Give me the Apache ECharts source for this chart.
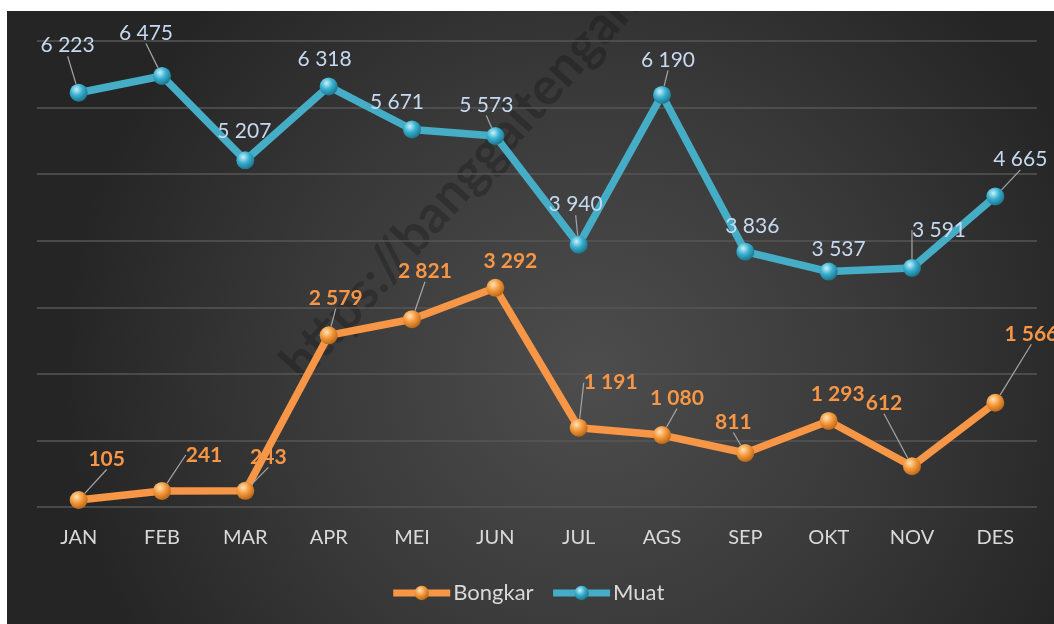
<!DOCTYPE html>
<html>
<head>
<meta charset="utf-8">
<script src="https://cdn.jsdelivr.net/npm/echarts@6/dist/echarts.min.js"></script>
<style>
  html, body { margin: 0; padding: 0; background: #fff; }
  #chart { width: 1054px; height: 624px; }
</style>
</head>
<body>
<div id="chart"></div>
<script>
// data
const months = ['JAN', 'FEB', 'MAR', 'APR', 'MEI', 'JUN', 'JUL', 'AGS', 'SEP', 'OKT', 'NOV', 'DES']
const bongkar = [105, 241, 243, 2579, 2821, 3292, 1191, 1080, 811, 1293, 612, 1566]
const muat = [6223, 6475, 5207, 6318, 5671, 5573, 3940, 6190, 3836, 3537, 3591, 4665]

// label offsets (px from the point) and whether a leader line is drawn
const muatOffset = [[-11, -47], [-16, -43], [-1, -29], [-4, -27], [-15, -27], [-9, -31],
  [-3, -40], [6, -35], [7, -25], [10, -22], [27, -38], [25, -37]]
const muatLeader = [true, true, false, false, false, true, true, true, false, false, true, true]
const bongkarOffset = [[28, -41], [42, -36], [23, -34], [7, -37], [13, -48], [15, -27],
  [32, -45], [15, -37], [-12, -31], [9, -27], [-28, -63], [36, -69]]
const bongkarLeader = [true, true, true, true, true, false, true, true, true, false, true, true]

let chart = echarts.init(document.getElementById('chart'))

// bola 3D
function ball(light, base, dark) {
  return new echarts.graphic.RadialGradient(0.38, 0.32, 0.75, [
    { offset: 0, color: light },
    { offset: 0.45, color: base },
    { offset: 1, color: dark }
  ])
}

function fmt(v) {
  return String(v).replace(/\B(?=(\d{3})+(?!\d))/g, ' ')
}

function items(values, leader) {
  return values.map((v, i) => ({ value: v, labelLine: { show: leader[i] } }))
}

let option = {
  backgroundColor: new echarts.graphic.RadialGradient(0.56, 0.6, 0.85, [
    { offset: 0, color: '#4d4d4d' },
    { offset: 0.55, color: '#393939' },
    { offset: 1, color: '#252525' }
  ]),
  textStyle: { fontFamily: 'Lato' },
  animation: false,
  grid: { left: 37, right: 17, top: 41, bottom: 117 },
  xAxis: {
    type: 'category',
    data: months,
    axisLine: { show: false },
    axisTick: { show: false },
    axisLabel: { color: '#d9d9d9', fontSize: 20, margin: 21 }
  },
  yAxis: {
    type: 'value',
    min: 0,
    max: 7000,
    interval: 1000,
    axisLabel: { show: false },
    axisLine: { show: false },
    axisTick: { show: false },
    splitLine: { lineStyle: { color: '#565656', width: 1.5 } }
  },
  legend: {
    left: 'center',
    top: 577,
    itemWidth: 57,
    itemHeight: 18,
    itemGap: 16,
    lineStyle: { width: 7 },
    textStyle: { color: '#d9d9d9', fontSize: 22, fontFamily: 'Lato', padding: [0, 0, 0, -2] },
    data: ['Bongkar', 'Muat']
  },
  graphic: [
    {
      type: 'text',
      x: 291,
      y: 372,
      rotation: 0.84,
      z: -1,
      silent: true,
      style: {
        text: 'https://banggaitengahkab.go.id',
        fill: 'rgba(0,0,0,0.22)',
        font: 'bold 52px Lato',
        textVerticalAlign: 'middle'
      }
    },
    { type: 'rect', z: 100, shape: { x: 0, y: 0, width: 1054, height: 11 }, style: { fill: '#fff' } },
    { type: 'rect', z: 100, shape: { x: 0, y: 0, width: 7, height: 624 }, style: { fill: '#fff' } }
  ],
  series: [
    {
      name: 'Bongkar',
      type: 'line',
      data: items(bongkar, bongkarLeader),
      symbol: 'circle',
      symbolSize: 18,
      lineStyle: { color: '#f79646', width: 7.5 },
      itemStyle: { color: ball('#fde2b8', '#f59a3c', '#b25e12') },
      label: {
        show: true,
        position: 'inside',
        formatter: p => fmt(p.value),
        color: '#f79646',
        fontSize: 21,
        fontWeight: 'bold'
      },
      labelLine: { show: true, length2: 0, lineStyle: { color: '#a6a6a6', width: 1.2 } },
      labelLayout: p => ({ dx: bongkarOffset[p.dataIndex][0], dy: bongkarOffset[p.dataIndex][1] })
    },
    {
      name: 'Muat',
      type: 'line',
      data: items(muat, muatLeader),
      symbol: 'circle',
      symbolSize: 18,
      lineStyle: { color: '#45adc6', width: 7.5 },
      itemStyle: { color: ball('#c8f0fa', '#38b0cf', '#176a82') },
      label: {
        show: true,
        position: 'inside',
        formatter: p => fmt(p.value),
        color: '#c6d9f0',
        fontSize: 21
      },
      labelLine: { show: true, length2: 0, lineStyle: { color: '#a6a6a6', width: 1.2 } },
      labelLayout: p => ({ dx: muatOffset[p.dataIndex][0], dy: muatOffset[p.dataIndex][1] })
    }
  ]
}

chart.setOption(option)
</script>
</body>
</html>
